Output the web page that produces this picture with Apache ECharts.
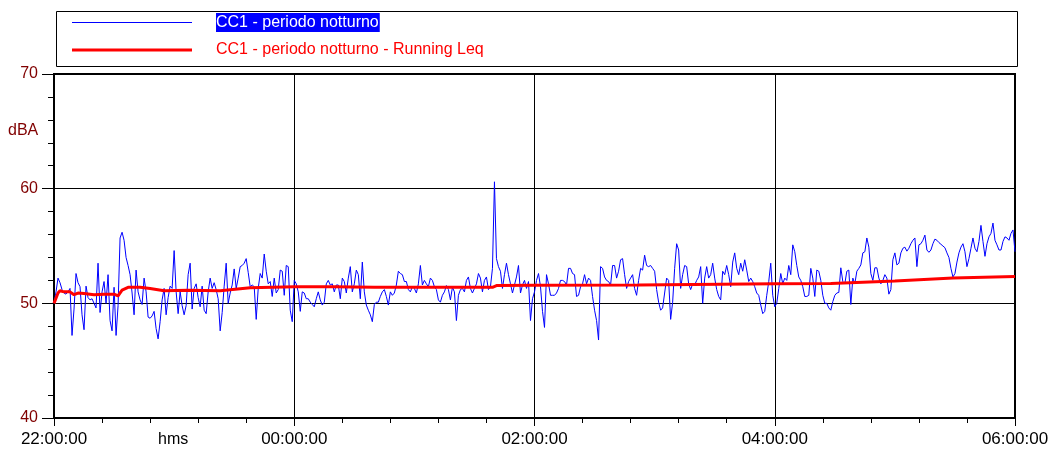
<!DOCTYPE html>
<html>
<head>
<meta charset="utf-8">
<script src="https://cdn.jsdelivr.net/npm/echarts@6/dist/echarts.min.js"></script>
<style>
html,body{margin:0;padding:0;background:#fff;}
#chart{width:1049px;height:450px;}
</style>
</head>
<body>
<div id="chart"></div>
<script>
// ---- DATA ----
const seriesNames = ['CC1 - periodo notturno', 'CC1 - periodo notturno - Running Leq'];
const xTickLabels = ['22:00:00', '00:00:00', '02:00:00', '04:00:00', '06:00:00'];
const xUnitLabel = 'hms';
const yUnitLabel = 'dBA';
const stepMinutes = 1;
// 1-minute levels, 22:00 -> 23:37
const blueSeg1 = [50.0,51.0,52.2,51.8,51.2,50.9,50.8,51.0,51.3,47.2,
  49.5,52.6,51.8,51.45,49.0,47.7,51.5,50.5,50.3,50.4,
  50.0,49.6,53.5,49.2,51.0,51.9,50.0,52.5,48.5,47.6,
  51.4,47.2,49.8,55.7,56.2,55.5,54.0,53.3,52.5,50.9,
  49.0,52.9,51.0,50.3,49.9,52.2,51.0,48.8,48.7,48.9,
  49.3,47.8,46.9,48.4,50.3,51.3,49.0,50.5,51.5,51.3,
  54.6,51.0,49.1,51.0,49.8,49.0,49.8,52.5,53.5,49.5,
  51.3,51.7,50.5,49.7,51.5,49.4,49.1,51.0,52.2,51.3,
  51.8,51.2,50.4,47.6,49.2,51.5,53.5,50.0,50.9,51.6,
  53.0,51.3,52.2,53.2,53.3,53.5,53.9,52.7];
// 23:38 -> 01:15
const blueSeg2 = [51.45,51.6,51.45,48.6,51.3,52.6,52.2,54.3,52.8,51.7,
  51.9,50.6,52.2,50.9,51.2,52.9,52.8,50.7,53.3,53.2,
  49.4,48.4,52.0,51.7,51.0,49.3,51.0,50.9,50.4,50.4,
  50.1,49.9,49.7,50.4,51.0,50.3,49.85,50.1,51.7,52.0,
  51.6,51.7,51.0,51.6,51.6,50.4,52.2,51.9,50.9,52.2,
  53.2,51.0,51.7,52.9,52.5,50.4,53.6,51.0,49.85,49.4,
  49.0,48.4,49.9,50.1,50.1,50.6,51.0,51.2,50.6,49.85,
  51.0,50.7,50.9,51.6,52.8,52.6,52.5,51.9,51.9,51.2,
  51.0,51.45,51.3,50.9,51.7,53.3,51.6,52.0,51.7,51.45,
  52.2,52.0,51.45,51.2,50.3,50.1,50.7,51.0];
// 01:16 -> 02:51
const blueSeg3 = [51.55,51.2,50.3,51.4,51.0,48.5,50.7,51.2,51.3,51.0,
  52.0,52.3,51.3,50.9,51.3,51.7,52.6,52.2,51.0,52.0,
  52.3,51.2,51.45,53.05,60.6,53.9,53.2,52.8,51.3,52.5,
  53.5,52.5,51.7,50.9,51.6,52.3,53.3,50.9,51.6,52.0,
  51.3,51.9,48.5,50.4,51.0,52.0,52.6,51.45,49.3,47.9,
  52.5,51.7,50.7,50.7,50.7,50.9,51.3,52.0,52.0,51.9,
  51.6,53.05,53.05,52.6,52.5,50.6,50.7,51.45,51.7,52.5,
  51.7,52.2,52.0,50.6,49.4,48.5,46.8,53.2,53.05,52.3,
  52.0,51.9,51.6,53.3,53.3,52.2,52.8,53.8,53.9,52.5,
  51.3,51.9,52.2,52.5,51.3,50.7];
// 02:52 -> 04:28
const blueSeg4 = [52.0,53.05,52.9,54.2,53.3,53.2,53.3,53.05,52.8,51.2,
  50.1,49.4,49.6,50.9,52.2,52.0,48.6,50.1,53.05,55.2,
  54.65,51.3,52.5,53.3,53.2,51.7,51.2,51.7,51.6,52.0,
  52.3,53.2,50.0,52.2,53.2,52.2,52.5,53.5,52.2,51.2,
  50.6,50.3,52.8,52.5,53.3,52.5,51.45,53.6,54.4,53.05,
  52.5,53.5,52.8,53.8,52.9,51.9,52.2,51.9,51.45,50.9,
  50.7,49.85,49.1,49.3,50.7,51.9,53.5,50.7,49.7,50.0,
  51.3,52.6,51.7,52.2,52.0,53.3,52.5,55.1,54.5,53.3,
  52.3,52.0,51.45,50.6,50.6,50.7,53.05,52.2,50.6,52.9,
  52.8,52.0,50.7,50.0,50.0,49.6,49.4];
// 04:29 -> 06:00
const blueSeg5 = [50.15,50.7,50.9,50.95,53.1,51.9,51.7,52.8,52.9,49.9,
  52.2,51.7,52.8,53.05,53.35,54.4,54.5,55.7,54.9,52.6,
  52.0,53.1,53.1,52.2,51.7,52.0,52.5,52.2,50.8,51.2,
  53.8,54.4,53.35,53.5,54.4,54.8,54.9,54.55,54.8,55.2,
  55.5,55.7,53.2,55.1,55.2,55.5,55.95,54.65,54.45,54.65,
  55.2,55.6,55.5,55.3,55.15,55.0,54.85,54.4,54.0,53.05,
  52.3,52.6,53.6,54.4,54.9,55.2,54.5,53.2,53.9,54.8,
  55.7,54.8,54.5,55.4,56.8,55.4,54.1,55.2,55.8,56.1,
  57.0,55.5,55.1,54.65,54.65,55.4,55.8,55.7,55.5,56.1,
  56.4,54.5];
const blueValues = [].concat(blueSeg1, blueSeg2, blueSeg3, blueSeg4, blueSeg5);
// Running Leq (minutes since 22:00, dBA)
const leqMinutes = [0,2,3,5,8,10,12,15,20,25,30,32,34,37,43,48,55,67,83,98,120,140,160,195,219,221,240,292,360,388,420,449,480];
const leqValues  = [50.0,50.9,51.1,51.0,51.0,50.75,50.9,50.85,50.75,50.8,50.8,50.65,51.15,51.4,51.4,51.3,51.1,51.15,51.1,51.35,51.45,51.45,51.4,51.4,51.4,51.55,51.57,51.6,51.7,51.74,51.95,52.2,52.35];

// ---- CHART ----
const FONT = "'Liberation Sans', Arial, sans-serif";
const chart = echarts.init(document.getElementById('chart'), null, {renderer: 'canvas'});
const option = {
  animation: false,
  backgroundColor: '#fff',
  grid: {left: 54, right: 34, top: 74, bottom: 32, show: true, borderColor: '#000', borderWidth: 2,
         containLabel: false, outerBoundsMode: 'none'},
  legend: {
    orient: 'vertical', left: 67, top: 8,
    itemWidth: 120, itemHeight: 14, itemGap: 9,
    selectedMode: false,
    symbolKeepAspect: true,
    data: [
      {name: seriesNames[0], icon: 'path://M0,0H120V1H0Z', itemStyle: {color: '#0000ff'}},
      {name: seriesNames[1], icon: 'path://M0,0H120V3H0Z', itemStyle: {color: '#ff0000'}}
    ],
    formatter: function (name) {
      return name === seriesNames[0] ? '{g| }{s|' + name + '}' : '{g| }{r|' + name + '}';
    },
    textStyle: {
      fontFamily: FONT, fontSize: 16, lineHeight: 18,
      rich: {
        g: {width: 19, fontFamily: FONT, fontSize: 16},
        s: {color: '#fff', backgroundColor: '#0000ff', padding: [2, 1, 1, 0], fontFamily: FONT, fontSize: 16},
        r: {color: '#ff0000', fontFamily: FONT, fontSize: 16}
      }
    }
  },
  xAxis: {
    type: 'value', min: 0, max: 480, interval: 120,
    axisLine: {show: true, onZero: false, lineStyle: {color: '#000', width: 2}},
    axisTick: {show: true, length: 8, lineStyle: {color: '#000'}},
    minorTick: {show: true, splitNumber: 5, length: 5, lineStyle: {color: '#000'}},
    splitLine: {show: true, lineStyle: {color: '#000', width: 1}},
    axisLabel: {
      color: '#000', fontFamily: FONT, fontSize: 17, margin: 13,
      showMinLabel: true, showMaxLabel: true, hideOverlap: false,
      formatter: function (v) { return xTickLabels[Math.round(v / 120)] || ''; }
    }
  },
  yAxis: {
    type: 'value', min: 40, max: 70, interval: 10,
    axisLine: {show: true, lineStyle: {color: '#000', width: 2}},
    axisTick: {show: true, length: 12, lineStyle: {color: '#000'}},
    minorTick: {show: true, splitNumber: 5, length: 6, lineStyle: {color: '#000'}},
    splitLine: {show: true, lineStyle: {color: '#000', width: 1}},
    axisLabel: {color: '#800000', fontFamily: FONT, fontSize: 16, margin: 16}
  },
  graphic: [
    {type: 'rect', left: 54, top: 9, shape: {width: 961, height: 55}, style: {fill: 'none', stroke: '#000', lineWidth: 1}, silent: true},
    {type: 'text', left: 158, top: 432, style: {text: xUnitLabel, fill: '#000', font: '16px ' + FONT}, silent: true},
    {type: 'text', left: 8, top: 123, style: {text: yUnitLabel, fill: '#800000', font: '16px ' + FONT}, silent: true}
  ],
  series: [
    {
      name: seriesNames[0], type: 'line', symbol: 'none',
      data: blueValues.map(function (v, i) { return [i * stepMinutes, v]; }),
      lineStyle: {color: '#0000ff', width: 1}, itemStyle: {color: '#0000ff'}, z: 2
    },
    {
      name: seriesNames[1], type: 'line', symbol: 'none',
      data: leqMinutes.map(function (m, i) { return [m, leqValues[i]]; }),
      lineStyle: {color: '#ff0000', width: 3}, itemStyle: {color: '#ff0000'}, z: 3
    }
  ]
};
chart.setOption(option);
</script>
</body>
</html>
